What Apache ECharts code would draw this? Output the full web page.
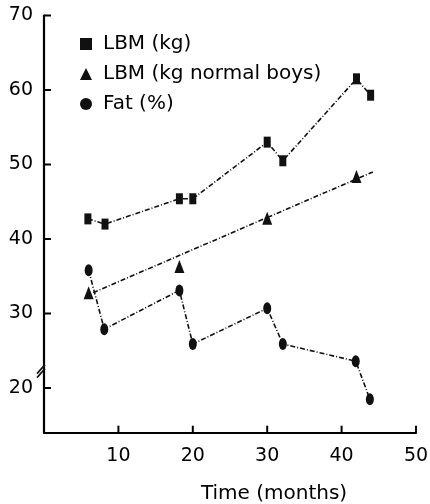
<!DOCTYPE html>
<html>
<head>
<meta charset="utf-8">
<script src="https://cdn.jsdelivr.net/npm/echarts@6/dist/echarts.min.js"></script>
<style>
html,body{margin:0;padding:0;background:#fff;}
#main{width:430px;height:504px;}
</style>
</head>
<body>
<div id="main"></div>
<script>
// Data
var lbmKg = [[5.9,42.7],[8.2,42.0],[18.2,45.4],[20.0,45.4],[30.0,53.0],[32.1,50.5],[42.0,61.5],[43.9,59.3]];
var lbmNormal = [[6.0,32.8],[18.2,36.3],[30.0,42.8],[42.0,48.4]];
var lbmNormalTrend = [[6.6,32.8],[44.2,49.0]];
var fatPct = [[6.0,35.8],[8.1,27.9],[18.2,33.1],[20.0,25.9],[30.0,30.7],[32.1,25.9],[41.9,23.6],[43.8,18.5]];
var yTickLabels = [20,30,40,50,60,70];
var xTickLabels = [10,20,30,40,50];
var seriesNames = ['LBM (kg)','LBM (kg normal boys)','Fat (%)'];
var xTitle = 'Time (months)';

var FONT = 'DejaVu Sans';
var INK = '#000';
var lineStyle = {color:'#111', width:1.6, type:[5,2,1,2]};
var X_MIN = 0, Y_MIN = 14;

var chart = echarts.init(document.getElementById('main'), null, {renderer:'canvas'});
chart.setOption({
  animation:false,
  backgroundColor:'#fff',
  textStyle:{fontFamily:FONT, color:INK},
  grid:{left:44, right:14, top:15.5, bottom:71.3, containLabel:false, outerBoundsMode:'none'},
  legend:{
    orient:'vertical', left:75, top:29, itemGap:10,
    itemWidth:12, itemHeight:12,
    data:[
      {name:seriesNames[0], icon:'rect'},
      {name:seriesNames[1], icon:'triangle'},
      {name:seriesNames[2], icon:'circle'}
    ],
    textStyle:{fontFamily:FONT, fontSize:20, color:INK, padding:[0,0,0,6]}
  },
  xAxis:{
    type:'value', min:X_MIN, max:50, interval:10,
    axisLine:{show:true, lineStyle:{color:INK, width:2.2}},
    axisTick:{show:false},
    axisLabel:{fontFamily:FONT, fontSize:19, color:INK, margin:14,
      formatter:function(v){ return xTickLabels.indexOf(v) >= 0 ? String(v) : ''; }},
    splitLine:{show:false},
    name:xTitle, nameLocation:'middle', nameGap:51,
    nameTextStyle:{fontFamily:FONT, fontSize:20, color:INK, padding:[0,0,0,88]}
  },
  yAxis:{
    type:'value', min:Y_MIN, max:70, splitNumber:5,
    axisLine:{show:true, lineStyle:{color:INK, width:2.2}},
    axisTick:{show:false},
    axisLabel:{fontFamily:FONT, fontSize:19, color:INK, margin:11,
      formatter:function(v){ return yTickLabels.indexOf(v) >= 0 ? String(v) : ''; }},
    splitLine:{show:false}
  },
  series:[
    {name:seriesNames[0], type:'line', data:lbmKg, symbol:'rect', symbolSize:[7,11],
     itemStyle:{color:'#111'}, lineStyle:lineStyle, z:3},
    {name:seriesNames[1], type:'scatter', data:lbmNormal, symbol:'triangle', symbolSize:[10,13],
     itemStyle:{color:'#111', opacity:1}, z:4},
    {name:'trend', type:'line', data:lbmNormalTrend, symbol:'none',
     lineStyle:lineStyle, z:2},
    {name:seriesNames[2], type:'line', data:fatPct, symbol:'circle', symbolSize:[8,12],
     itemStyle:{color:'#111'}, lineStyle:lineStyle, z:3}
  ]
});

// inward tick marks and axis break, placed through the chart's own scales
var TICK = 7;
var graphics = [];
xTickLabels.forEach(function(v){
  var p = chart.convertToPixel({gridIndex:0}, [v, Y_MIN]);
  graphics.push({type:'line', shape:{x1:p[0], y1:p[1], x2:p[0], y2:p[1]-TICK},
    style:{stroke:'#000', lineWidth:2}, z:10});
});
yTickLabels.forEach(function(v){
  var p = chart.convertToPixel({gridIndex:0}, [X_MIN, v]);
  graphics.push({type:'line', shape:{x1:p[0], y1:p[1], x2:p[0]+TICK, y2:p[1]},
    style:{stroke:'#000', lineWidth:2}, z:10});
});
var bp = chart.convertToPixel({gridIndex:0}, [X_MIN, 22.6]);
graphics.push(
  {type:'line', shape:{x1:bp[0]-7, y1:bp[1]+5, x2:bp[0]+1, y2:bp[1]-4}, style:{stroke:'#111', lineWidth:1.6}, z:10},
  {type:'line', shape:{x1:bp[0]-7, y1:bp[1]+9, x2:bp[0]+1, y2:bp[1]}, style:{stroke:'#111', lineWidth:1.6}, z:10}
);
chart.setOption({graphic:graphics});
</script>
</body>
</html>
